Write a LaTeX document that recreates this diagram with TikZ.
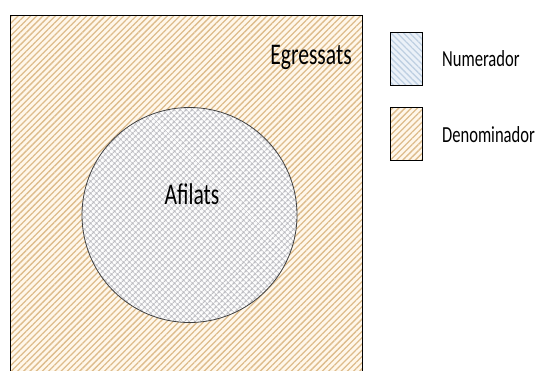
\documentclass[tikz,border=0pt]{standalone}
\usepackage{fontspec}
\setmainfont{Carlito}
\usetikzlibrary{patterns.meta}

\definecolor{cream}{HTML}{FFF7EA}
\definecolor{tan}{HTML}{DDBC8C}
\definecolor{paleblue}{HTML}{EBF1F8}
\definecolor{blueline}{HTML}{BFD0E2}
\definecolor{hatchgray}{HTML}{BDBDC2}

\begin{document}
\begin{tikzpicture}[
  x=1pt, y=-1pt,
  denom/.style={draw=black, line width=0.9pt, preaction={fill=cream},
    pattern={Lines[angle=45, distance=4.4pt, line width=1.3pt]}, pattern color=tan},
  numer/.style={draw=black, line width=0.9pt, preaction={fill=paleblue},
    pattern={Lines[angle=-45, distance=4.4pt, line width=1.3pt]}, pattern color=blueline},
  afil/.style={circle, draw=black!75, line width=0.8pt, preaction={fill=white},
    pattern={Hatch[angle=45, distance=4pt, line width=1.1pt]}, pattern color=hatchgray},
  key/.style={rectangle, minimum width=32pt, minimum height=53pt, inner sep=0pt},
  big/.style={font=\fontsize{30}{36}\selectfont, xscale=0.72, inner sep=0pt},
  small/.style={font=\fontsize{23}{28}\selectfont, xscale=0.72, inner sep=0pt, anchor=west},
]
\useasboundingbox (0,0) rectangle (537,370);
\clip (0,0) rectangle (537,370);

% outer set
\node[denom, rectangle, minimum width=352pt, minimum height=370pt, anchor=north west, inner sep=0pt] (egr) at (10,15) {};
\node[big] (egrtxt) at (311,57) {Egressats};

% inner set
\node[afil, minimum size=215pt, inner sep=0pt] (afi) at (189.5,215) {};
\node[big] (afitxt) at (192,194) {Afilats};

% legend
\node[key, numer] (numkey) at (406,59) {};
\node[small] (numtxt) at (442,59) {Numerador};
\node[key, denom] (denkey) at (406,134) {};
\node[small] (dentxt) at (442,135) {Denominador};

\end{tikzpicture}
\end{document}
